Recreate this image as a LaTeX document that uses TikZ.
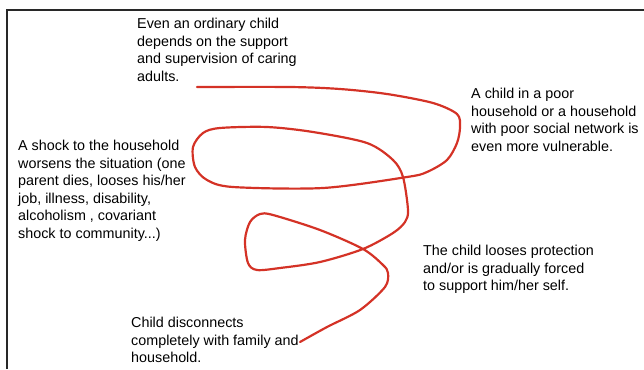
\documentclass[tikz,border=0pt]{standalone}
\usepackage{fontspec}
\setmainfont{Liberation Sans}
\definecolor{curvered}{RGB}{212,50,38}
\definecolor{framegray}{RGB}{40,40,40}
\tikzset{
  textblk/.style={anchor=north west, inner sep=0pt, align=left,
    font=\fontsize{14.4}{17.6}\selectfont},
  curveline/.style={draw=curvered, line width=2.2pt, line join=round, line cap=round},
  frameline/.style={draw=framegray, line width=1.3pt}
}

\begin{document}
\begin{tikzpicture}[x=1bp,y=-1bp]
\useasboundingbox (0,0) rectangle (644,369);

% frame, open at right and bottom
\draw[frameline] (7,369) -- (7,10) -- (644,10);

% texts
\node[textblk] (ordinary) at (137,18) {Even an ordinary child\\depends on the support\\and supervision of caring\\adults.};
\node[textblk] (poor) at (471,88) {A child in a poor\\household or a household\\with poor social network is\\even more vulnerable.};
\node[textblk] (shock) at (18,140) {A shock to the household\\worsens the situation (one\\parent dies, looses his/her\\job, illness, disability,\\alcoholism , covariant\\shock to community...)};
\node[textblk] (protection) at (423,245) {The child looses protection\\and/or is gradually forced\\to support him/her self.};
\node[textblk] (disconnect) at (131,317) {Child disconnects\\completely with family and\\household.};

% the spiral
\draw[curveline] plot[smooth, tension=0.5] coordinates {
  (197,87) (290,87) (340,89) (387,94) (433,103) (457,114) (460,127)
  (457,143) (447,160) (427,172) (407,177) (323,188) (233,187) (207,180)
  (195,167) (193,147) (203,133) (220,128) (267,127) (313,132) (367,143)
  (393,160) (403,177) (408,210) (405,222) (393,233) (363,249) (320,262)
  (280,268) (257,270) (248,263) (245,240) (250,222) (260,214) (273,215)
  (320,230) (363,249) (383,265) (388,273) (385,287) (360,310) (327,327)
  (300,342)};
\end{tikzpicture}
\end{document}
